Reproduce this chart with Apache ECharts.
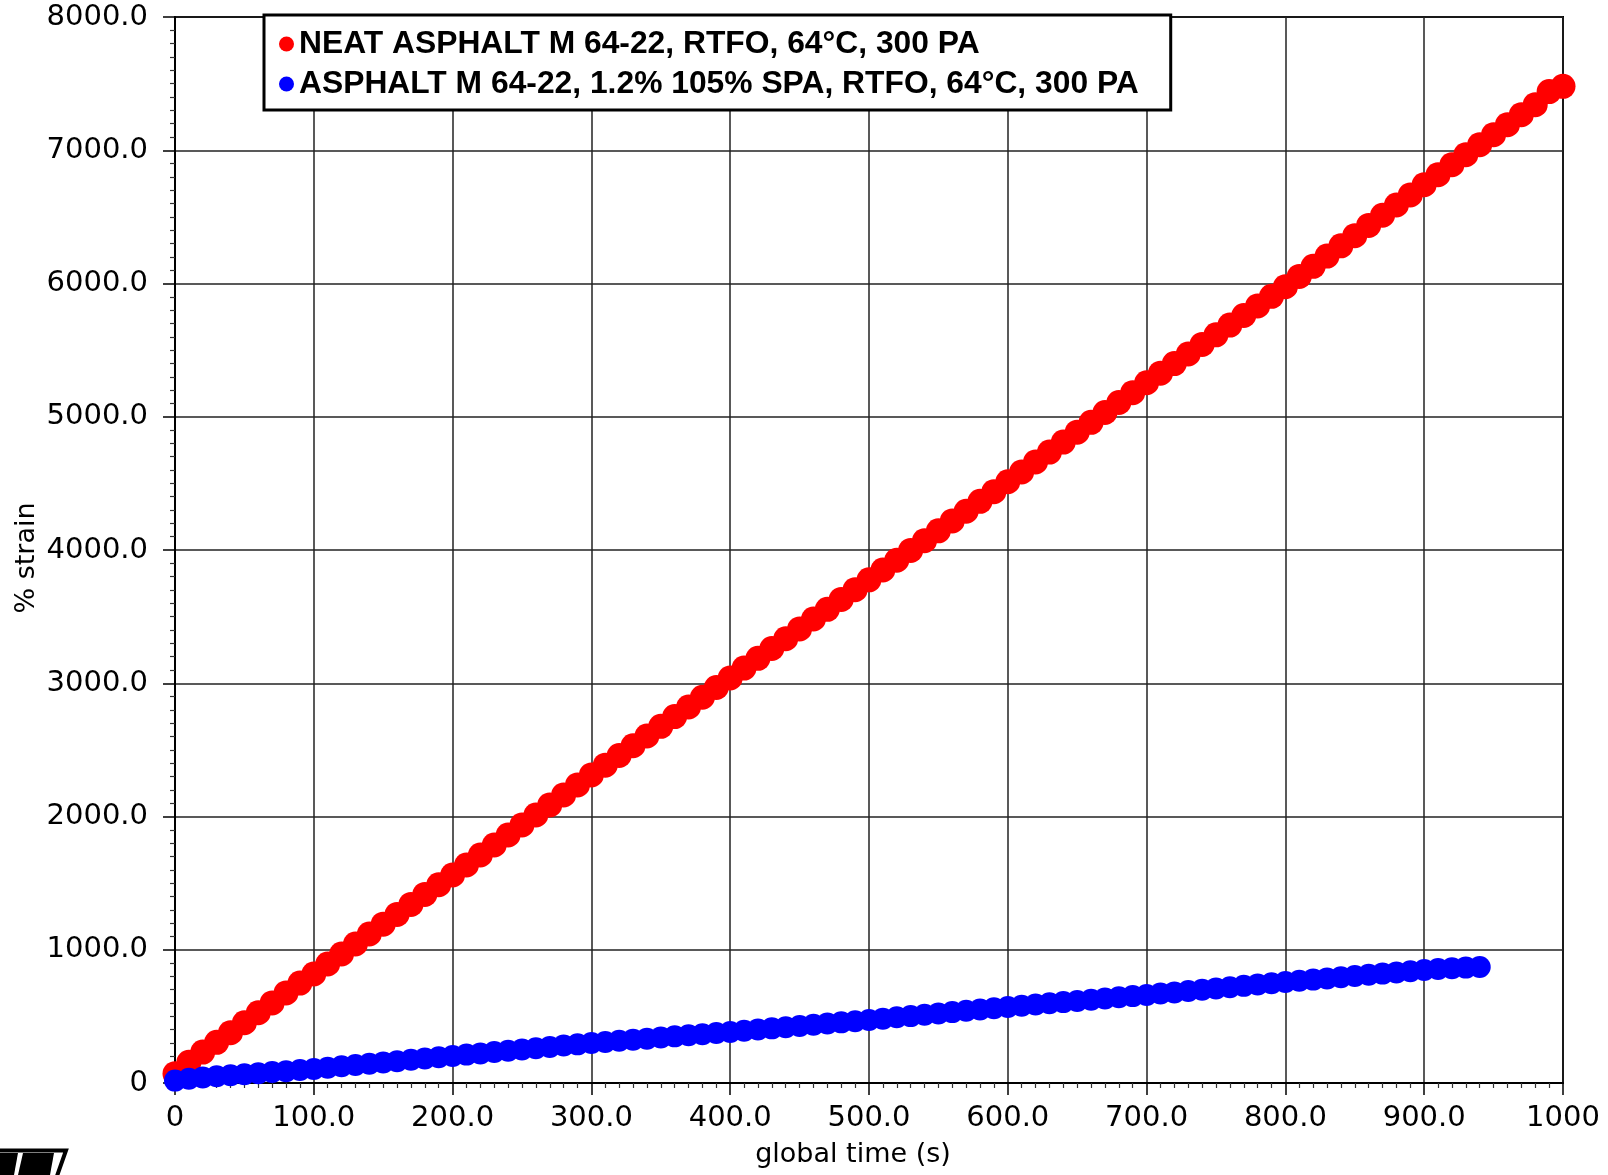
<!DOCTYPE html>
<html>
<head>
<meta charset="utf-8">
<script src="https://cdn.jsdelivr.net/npm/echarts@6/dist/echarts.min.js"></script>
<style>html,body{margin:0;padding:0;background:#fff}#chart{width:1608px;height:1175px}</style>
</head>
<body>
<div id="chart"></div>
<script>
// ---- Data ----
var seriesNames = [
  'NEAT ASPHALT M 64-22, RTFO, 64°C, 300 PA',
  'ASPHALT M 64-22, 1.2% 105% SPA, RTFO, 64°C, 300 PA'
];
var redTime = [0,10,20,30,40,50,60,70,80,90,100,110,120,130,140,150,160,170,180,190,200,210,220,230,240,250,260,270,280,290,300,310,320,330,340,350,360,370,380,390,400,410,420,430,440,450,460,470,480,490,500,510,520,530,540,550,560,570,580,590,600,610,620,630,640,650,660,670,680,690,700,710,720,730,740,750,760,770,780,790,800,810,820,830,840,850,860,870,880,890,900,910,920,930,940,950,960,970,980,990,1000];
var redStrain = [70,155,232,305,378,452,527,601,676,750,818,893,968,1043,1118,1192,1265,1340,1415,1488,1561,1636,1711,1786,1861,1937,2011,2087,2162,2237,2312,2385,2458,2531,2604,2677,2750,2822,2895,2968,3040,3114,3187,3261,3334,3408,3482,3555,3629,3702,3776,3850,3923,3997,4070,4144,4218,4291,4365,4438,4512,4586,4661,4735,4810,4884,4958,5032,5107,5181,5255,5327,5399,5471,5543,5615,5688,5760,5832,5904,5976,6053,6129,6206,6283,6359,6436,6512,6589,6665,6742,6817,6892,6967,7042,7117,7192,7267,7342,7440,7480];
var blueTime = [0,10,20,30,40,50,60,70,80,90,100,110,120,130,140,150,160,170,180,190,200,210,220,230,240,250,260,270,280,290,300,310,320,330,340,350,360,370,380,390,400,410,420,430,440,450,460,470,480,490,500,510,520,530,540,550,560,570,580,590,600,610,620,630,640,650,660,670,680,690,700,710,720,730,740,750,760,770,780,790,800,810,820,830,840,850,860,870,880,890,900,910,920,930,940];
var blueStrain = [18,32,42,50,58,66,74,82,89,97,105,115,125,135,145,154,164,174,184,193,203,213,222,232,242,252,261,271,281,290,300,308,317,325,333,342,350,358,366,375,383,392,401,410,419,428,437,446,455,464,473,483,493,502,512,522,532,542,551,561,571,580,589,598,607,616,625,634,643,652,661,671,680,690,700,710,719,729,739,748,758,767,776,785,794,803,812,821,830,839,848,855,861,866,871];
var xAxisTitle = 'global time (s)';
var yAxisTitle = '% strain';

function pairs(xs, ys) { return xs.map(function (x, i) { return [x, ys[i]]; }); }

var tickFont = 'DejaVu Sans';
var chart = echarts.init(document.getElementById('chart'), null, { renderer: 'canvas' });

function axisCommon() {
  return {
    type: 'value',
    axisLine: { show: true, onZero: false, lineStyle: { color: '#000', width: 2 } },
    axisTick: { show: true, inside: false, length: 12, lineStyle: { color: '#000', width: 1.5 } },
    minorTick: { show: true, splitNumber: 10, length: 5, lineStyle: { color: '#333', width: 1.2 } },
    splitLine: { show: true, lineStyle: { color: '#222', width: 1.5 } },
    minorSplitLine: { show: false },
    axisLabel: { color: '#000', fontFamily: tickFont, fontSize: 29 }
  };
}

var xAxis = axisCommon();
xAxis.min = 0; xAxis.max = 1000; xAxis.interval = 100;
xAxis.axisLabel.margin = 21;
xAxis.axisLabel.formatter = function (v) { return (v === 0 || v === 1000) ? String(v) : v.toFixed(1); };
xAxis.name = xAxisTitle;
xAxis.nameLocation = 'middle';
xAxis.nameGap = 58;
xAxis.nameTextStyle = { color: '#000', fontFamily: tickFont, fontSize: 27, padding: [0, 32, 0, 0] };

var yAxis = axisCommon();
yAxis.min = 0; yAxis.max = 8000; yAxis.interval = 1000;
yAxis.axisLabel.margin = 27;
yAxis.axisLabel.formatter = function (v) { return v === 0 ? '0' : v.toFixed(1); };
yAxis.name = yAxisTitle;
yAxis.nameLocation = 'middle';
yAxis.nameMoveOverlap = false;
yAxis.nameGap = 135;
yAxis.nameTextStyle = { color: '#000', fontFamily: tickFont, fontSize: 27, padding: [0, 16, 0, 0] };

var option = {
  backgroundColor: '#fff',
  animation: false,
  grid: { left: 175, right: 45, top: 17, bottom: 92, show: true, borderColor: '#000', borderWidth: 2 },
  legend: {
    data: seriesNames,
    left: 264, top: 15,
    orient: 'vertical',
    backgroundColor: '#fff',
    borderColor: '#000', borderWidth: 3, borderRadius: 0,
    padding: [13, 32, 10, 15],
    itemGap: 8,
    itemWidth: 15, itemHeight: 15,
    icon: 'circle',
    textStyle: { color: '#000', fontFamily: 'Liberation Sans', fontWeight: 'bold', fontSize: 31.8 }
  },
  xAxis: xAxis,
  yAxis: yAxis,
  series: [
    { name: seriesNames[0], type: 'scatter', data: pairs(redTime, redStrain), symbol: 'circle', symbolSize: 25,
      itemStyle: { color: '#ff0000', opacity: 1 }, z: 2 },
    { name: seriesNames[1], type: 'scatter', data: pairs(blueTime, blueStrain), symbol: 'circle', symbolSize: 22,
      itemStyle: { color: '#0000ff', opacity: 1 }, z: 3 }
  ],
  graphic: [
    { type: 'polyline', shape: { points: [[0, 1150.5], [66, 1150.5], [57, 1176]] }, style: { stroke: '#000', lineWidth: 4, fill: null } },
    { type: 'polygon', shape: { points: [[0, 1153], [18, 1153], [14, 1175], [0, 1175]] }, style: { fill: '#000' } },
    { type: 'polygon', shape: { points: [[23, 1153], [54, 1153], [50, 1175], [18, 1175]] }, style: { fill: '#000' } }
  ]
};
chart.setOption(option);
</script>
</body>
</html>
